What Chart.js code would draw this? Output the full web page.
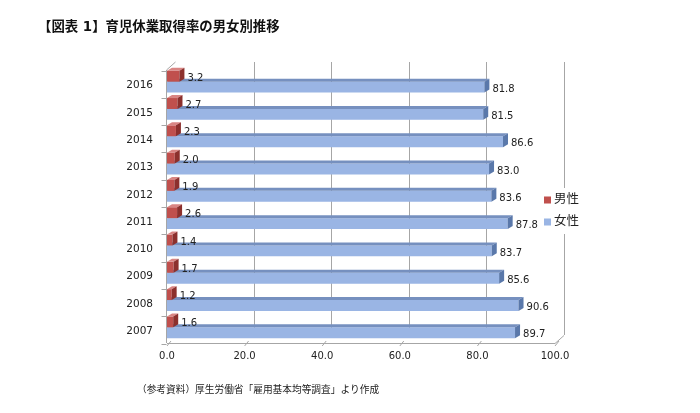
<!DOCTYPE html>
<html>
<head>
<meta charset="utf-8">
<script src="https://cdn.jsdelivr.net/npm/chart.js@4"></script>
<style>
  body { margin: 0; background: #fff; }
  #wrap { width: 700px; height: 413px; }
</style>
</head>
<body>
<div id="wrap"><canvas id="chart" width="700" height="413"></canvas></div>
<script>
// data
var years = ['2016', '2015', '2014', '2013', '2012', '2011', '2010', '2009', '2008', '2007'];
var maleRate = [3.2, 2.7, 2.3, 2.0, 1.9, 2.6, 1.4, 1.7, 1.2, 1.6];
var femaleRate = [81.8, 81.5, 86.6, 83.0, 83.6, 87.8, 83.7, 85.6, 90.6, 89.7];
var xTicks = [0, 20, 40, 60, 80, 100];
var seriesNames = ['男性', '女性'];

var titleText = '【図表 1】育児休業取得率の男女別推移';
var sourceText = '（参考資料）厚生労働省「雇用基本均等調査」より作成';

var jpFont = '"DejaVu Sans", "Noto Sans CJK JP", sans-serif';

// colours for the fake 3D faces: [front, top, side]
var faceColors = [
    ['#c0504d', '#d98583', '#8c302d'],
    ['#9ab5e4', '#7690bf', '#5a78aa']
];

var depthX = 5, depthY = -3;   // bar depth
var wallX = 9, wallY = -8;     // back wall offset

// Function to draw back wall, axes and floor
var wallPlugin = {
    id: 'wall',
    beforeDatasetsDraw: function(chart) {
        var ctx = chart.ctx;
        var area = chart.chartArea;
        var xs = chart.scales.x;
        var front = area.bottom + 2;
        ctx.save();
        ctx.strokeStyle = '#a6a6a6';
        ctx.lineWidth = 1;
        // back wall grid lines
        for (var i = 1; i < xTicks.length; i++) {
            var gx = Math.round(xs.getPixelForValue(xTicks[i]) + wallX) + 0.5;
            ctx.beginPath();
            ctx.moveTo(gx, area.top + 2 + wallY);
            ctx.lineTo(gx, front + wallY);
            ctx.stroke();
        }
        // floor front edge and right diagonal
        var x0 = xs.getPixelForValue(0);
        var x1 = xs.getPixelForValue(100);
        ctx.beginPath();
        ctx.moveTo(x0, front + 0.5);
        ctx.lineTo(x1, front + 0.5);
        ctx.lineTo(x1 + wallX, front + wallY + 0.5);
        ctx.stroke();
        // floor ticks
        for (var j = 0; j < xTicks.length; j++) {
            var tx = xs.getPixelForValue(xTicks[j]);
            ctx.beginPath();
            ctx.moveTo(tx, front + 3);
            ctx.lineTo(tx + 4, front - 2);
            ctx.stroke();
        }
        // left axis with top diagonal
        var lx = Math.round(x0) - 0.5;
        ctx.beginPath();
        ctx.moveTo(lx + wallX, area.top + 2 + wallY);
        ctx.lineTo(lx, area.top + 2);
        ctx.lineTo(lx, front);
        ctx.stroke();
        // category ticks on left axis
        var step = (area.bottom - area.top) / years.length;
        for (var k = 0; k <= years.length; k++) {
            var ty = Math.round(area.top + k * step + 2.5) + 0.5;
            ctx.beginPath();
            ctx.moveTo(lx - 5, ty);
            ctx.lineTo(lx, ty);
            ctx.stroke();
        }
        ctx.restore();
    },
    afterDatasetDraw: function(chart, args) {
        var ctx = chart.ctx;
        var cols = faceColors[args.index];
        ctx.save();
        args.meta.data.forEach(function(bar) {
            var p = bar.getProps(['x', 'y', 'base', 'height'], true);
            var top = p.y - p.height / 2;
            var bottom = p.y + p.height / 2;
            // top face
            ctx.fillStyle = cols[1];
            ctx.beginPath();
            ctx.moveTo(p.base, top);
            ctx.lineTo(p.x, top);
            ctx.lineTo(p.x + depthX, top + depthY);
            ctx.lineTo(p.base + depthX, top + depthY);
            ctx.closePath();
            ctx.fill();
            // side face
            ctx.fillStyle = cols[2];
            ctx.beginPath();
            ctx.moveTo(p.x, top);
            ctx.lineTo(p.x + depthX, top + depthY);
            ctx.lineTo(p.x + depthX, bottom + depthY);
            ctx.lineTo(p.x, bottom);
            ctx.closePath();
            ctx.fill();
        });
        ctx.restore();
    },
    afterDraw: function(chart) {
        var ctx = chart.ctx;
        ctx.save();
        // value labels
        ctx.font = '10px ' + jpFont;
        ctx.fillStyle = '#222';
        ctx.textAlign = 'left';
        ctx.textBaseline = 'middle';
        chart.data.datasets.forEach(function(ds, di) {
            chart.getDatasetMeta(di).data.forEach(function(bar, i) {
                var p = bar.getProps(['x', 'y'], true);
                ctx.fillText(ds.data[i].toFixed(1), p.x + depthX + 3, p.y + 2);
            });
        });
        // legend
        ctx.fillStyle = '#fff';
        ctx.fillRect(540, 188, 46, 46);
        ctx.font = '12.5px ' + jpFont;
        ctx.textBaseline = 'middle';
        for (var s = 0; s < seriesNames.length; s++) {
            var ly = 200 + s * 22;
            ctx.fillStyle = faceColors[s][0];
            ctx.fillRect(544, ly - 3.5, 7, 7);
            ctx.fillStyle = '#222';
            ctx.fillText(seriesNames[s], 554, ly);
        }
        // title and source
        ctx.font = 'bold 13.4px ' + jpFont;
        ctx.fillStyle = '#111';
        ctx.fillText(titleText, 38, 28);
        ctx.font = '9.7px ' + jpFont;
        ctx.fillStyle = '#222';
        ctx.fillText(sourceText, 137, 390);
        ctx.restore();
    }
};

var ctx = document.getElementById('chart').getContext('2d');
var chart = new Chart(ctx, {
    type: 'bar',
    data: {
        labels: years,
        datasets: [{
            label: seriesNames[0],
            data: maleRate,
            backgroundColor: faceColors[0][0],
            borderWidth: 0
        }, {
            label: seriesNames[1],
            data: femaleRate,
            backgroundColor: faceColors[1][0],
            borderWidth: 0
        }]
    },
    options: {
        indexAxis: 'y',
        responsive: false,
        animation: false,
        devicePixelRatio: 1,
        categoryPercentage: 0.8,
        barPercentage: 1.0,
        layout: { padding: { left: 0, right: 145, top: 68, bottom: 0 } },
        plugins: {
            legend: { display: false },
            tooltip: { enabled: false }
        },
        scales: {
            x: {
                min: 0,
                max: 100,
                afterFit: function(scale) { scale.height = 72; },
                afterBuildTicks: function(scale) {
                    scale.ticks = xTicks.map(function(v) { return { value: v }; });
                },
                grid: { display: false, drawTicks: false },
                border: { display: false },
                ticks: {
                    padding: 9,
                    color: '#222',
                    font: { family: jpFont, size: 10 },
                    callback: function(v) { return Number(v).toFixed(1); }
                }
            },
            y: {
                afterFit: function(scale) { scale.width = 167; },
                grid: { display: false, drawTicks: false },
                border: { display: false },
                ticks: {
                    padding: 14,
                    labelOffset: 4,
                    color: '#222',
                    font: { family: jpFont, size: 10.5 }
                }
            }
        }
    },
    plugins: [wallPlugin]
});
</script>
</body>
</html>
